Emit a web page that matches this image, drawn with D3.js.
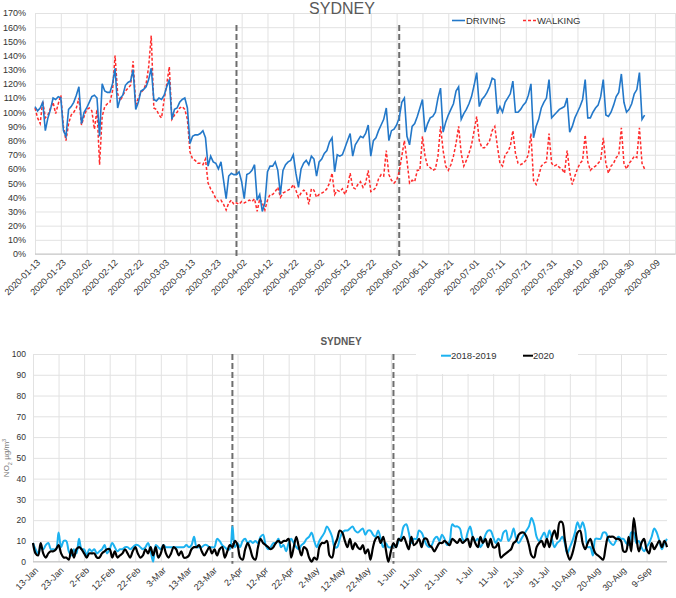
<!DOCTYPE html>
<html>
<head>
<meta charset="utf-8">
<script src="https://cdn.jsdelivr.net/npm/d3@7"></script>
<style>
  body { margin: 0; background: #fff; }
  svg { display: block; font-family: Helvetica, Arial, "Liberation Sans", sans-serif; }
</style>
</head>
<body>
<svg id="chart" width="676" height="598"></svg>
<script>
// ---- data ----
const startDate = '2020-01-13';
const endDate = '2020-09-17';
const lockdownDates = ['2020-03-31', '2020-06-02'];

const tickDates = ['2020-01-13', '2020-01-23', '2020-02-02', '2020-02-12', '2020-02-22', '2020-03-03',
  '2020-03-13', '2020-03-23', '2020-04-02', '2020-04-12', '2020-04-22', '2020-05-02', '2020-05-12',
  '2020-05-22', '2020-06-01', '2020-06-11', '2020-06-21', '2020-07-01', '2020-07-11', '2020-07-21',
  '2020-07-31', '2020-08-10', '2020-08-20', '2020-08-30', '2020-09-09'];

const mobilityTicks = [0, 10, 20, 30, 40, 50, 60, 70, 80, 90, 100, 110, 120, 130, 140, 150, 160, 170];
const no2Ticks = [0, 10, 20, 30, 40, 50, 60, 70, 80, 90, 100];

// Apple mobility, % of baseline, daily from 2020-01-13
const driving = [
  104, 101, 103, 107, 87, 96, 102, 110, 109, 111,
  110, 87, 83, 102, 104, 107, 112, 118, 92, 100,
  103, 107, 111, 112, 110, 83, 120, 115, 114, 114,
  120, 131, 103, 110, 112, 119, 121, 122, 130, 102,
  107, 115, 116, 118, 123, 131, 109, 108, 110, 109,
  112, 118, 123, 95, 102, 103, 107, 109, 110, 103,
  78, 83, 84, 84, 85, 87, 82, 62, 69, 65,
  64, 60, 65, 52, 39, 55, 57, 56, 56, 58,
  51, 39, 56, 57, 59, 63, 38, 42, 30, 36,
  58, 62, 62, 65, 59, 42, 59, 63, 65, 66,
  70, 57, 47, 60, 64, 66, 63, 69, 67, 55,
  65, 67, 71, 73, 79, 82, 58, 70, 69, 70,
  75, 80, 85, 69, 77, 80, 83, 82, 85, 91,
  69, 80, 82, 87, 91, 95, 103, 80, 87, 88,
  91, 96, 107, 110, 83, 77, 90, 92, 97, 103,
  109, 86, 92, 96, 97, 100, 110, 117, 86, 93,
  98, 102, 106, 115, 118, 95, 99, 102, 106, 111,
  119, 128, 104, 109, 111, 114, 118, 124, 123, 99,
  104, 100, 107, 110, 113, 122, 100, 100, 102, 105,
  107, 112, 120, 82, 90, 95, 103, 107, 110, 123,
  96, 98, 100, 102, 103, 104, 110, 86, 90, 96,
  100, 104, 109, 123, 96, 96, 100, 103, 105, 111,
  123, 98, 97, 100, 105, 111, 114, 127, 107, 100,
  102, 106, 113, 116, 128, 95, 98
];

const walking = [
  103, 96, 92, 108, 96, 98, 103, 107, 99, 106,
  112, 90, 80, 92, 98, 100, 103, 110, 91, 97,
  102, 103, 101, 88, 102, 63, 97, 104, 106, 107,
  115, 140, 113, 108, 112, 115, 117, 119, 136, 105,
  110, 114, 116, 120, 132, 154, 103, 102, 98, 96,
  109, 120, 132, 95, 98, 100, 103, 104, 102, 95,
  72, 67, 66, 64, 64, 63, 67, 50, 46, 43,
  39, 37, 38, 35, 31, 36, 38, 35, 36, 35,
  37, 36, 37, 38, 37, 39, 30, 39, 36, 31,
  38, 42, 42, 44, 47, 40, 43, 44, 45, 46,
  49, 45, 40, 43, 45, 44, 35, 46, 45, 40,
  42, 43, 44, 46, 50, 57, 42, 45, 44, 46,
  42, 47, 57, 47, 46, 49, 51, 47, 50, 59,
  44, 45, 47, 53, 56, 55, 73, 56, 52, 50,
  52, 58, 69, 80, 66, 50, 52, 51, 59, 59,
  83, 69, 62, 61, 59, 60, 69, 90, 73, 62,
  59, 63, 69, 78, 90, 71, 62, 66, 71, 77,
  87, 97, 80, 75, 75, 77, 80, 87, 90, 76,
  64, 62, 70, 72, 76, 87, 71, 64, 63, 64,
  66, 70, 85, 52, 49, 55, 62, 64, 65, 85,
  64, 62, 63, 61, 60, 57, 73, 58, 49, 55,
  60, 64, 66, 84, 65, 59, 61, 62, 64, 66,
  82, 64, 57, 62, 64, 68, 70, 89, 64, 60,
  64, 66, 69, 68, 89, 64, 60
];

// NO2 ug/m3, daily from 13-Jan
const no2Baseline = [
  9, 6, 4, 7, 6, 8, 9, 6, 6, 6,
  14, 7, 10, 10, 5, 3, 6, 4, 11, 6,
  6, 3, 6, 5, 6, 4, 5, 6, 8, 4,
  6, 9, 7, 5, 6, 6, 7, 7, 6, 7,
  8, 8, 7, 6, 7, 9, 5, 0, 8, 7,
  6, 8, 7, 7, 7, 7, 7, 7, 7, 7,
  8, 7, 8, 12, 7, 7, 7, 8, 8, 7,
  7, 7, 11, 10, 8, 7, 6, 6, 17, 7,
  9, 7, 10, 11, 9, 10, 9, 10, 9, 12,
  13, 8, 6, 7, 9, 9, 11, 7, 8, 5,
  9, 11, 9, 7, 6, 8, 9, 11, 12, 14,
  10, 7, 10, 12, 14, 17, 15, 12, 7, 7,
  11, 14, 15, 15, 16, 17, 15, 14, 15, 16,
  13, 15, 15, 13, 12, 15, 11, 7, 9, 7,
  7, 8, 7, 10, 12, 17, 18, 14, 9, 11,
  11, 15, 14, 11, 8, 7, 8, 11, 12, 10,
  13, 11, 8, 10, 18, 17, 17, 16, 11, 10,
  14, 17, 12, 10, 11, 7, 9, 13, 15, 15,
  12, 9, 11, 10, 14, 15, 10, 12, 16, 11,
  9, 11, 13, 15, 17, 21, 18, 12, 10, 12,
  14, 11, 15, 11, 7, 9, 10, 12, 9, 4,
  7, 10, 14, 19, 16, 19, 15, 7, 7, 3,
  11, 11, 11, 14, 14, 11, 9, 8, 10, 12,
  11, 11, 9, 8, 14, 14, 9, 10, 7, 5,
  7, 9, 12, 16, 14, 10, 6, 9, 11
];

const no2Year2020 = [
  9, 4, 3, 9, 4, 2, 4, 5, 5, 6,
  8, 4, 2, 2, 1, 6, 2, 6, 7, 6,
  4, 2, 4, 4, 4, 2, 2, 4, 5, 6,
  6, 2, 5, 2, 3, 4, 6, 4, 2, 5,
  7, 4, 2, 3, 6, 4, 7, 3, 7, 2,
  4, 8, 4, 2, 4, 7, 6, 3, 5, 2,
  2, 3, 6, 7, 7, 8, 5, 3, 5, 7,
  4, 6, 3, 6, 7, 2, 5, 8, 7, 10,
  8, 2, 1, 6, 9, 6, 2, 1, 7, 11,
  9, 8, 7, 6, 7, 9, 10, 9, 10, 10,
  11, 2, 7, 12, 7, 3, 7, 6, 2, 0,
  2, 1, 7, 9, 9, 10, 3, 2, 8, 11,
  15, 14, 10, 7, 11, 6, 9, 7, 6, 8,
  4, 6, 1, 7, 11, 12, 9, 12, 6, 0,
  5, 9, 7, 11, 10, 12, 9, 6, 12, 8,
  9, 11, 7, 11, 11, 8, 7, 5, 7, 9,
  9, 10, 9, 8, 11, 10, 9, 11, 9, 10,
  11, 7, 12, 9, 7, 12, 9, 11, 7, 11,
  7, 7, 9, 2, 3, 4, 5, 6, 9, 10,
  13, 14, 14, 12, 8, 3, 2, 7, 9, 10,
  7, 11, 7, 12, 15, 11, 19, 19, 11, 4,
  1, 4, 9, 14, 15, 9, 6, 9, 11, 7,
  4, 3, 2, 1, 7, 12, 12, 12, 11, 11,
  10, 5, 5, 12, 5, 21, 12, 5, 9, 11,
  6, 4, 9, 6, 8, 10, 7, 10, 7
];

const parseDate = d3.utcParse('%Y-%m-%d');
const day0 = parseDate(startDate);
const dateAt = i => d3.utcDay.offset(day0, i);

const svg = d3.select('#chart');
const gridColor = '#e2e2e2';
const textColor = '#333';

function styleGrid(g) {
  g.select('.domain').remove();
  g.selectAll('line').attr('stroke', gridColor).attr('stroke-width', 1);
}

function drawPanel(opts) {
  const x = d3.scaleUtc().domain([day0, parseDate(endDate)]).range([opts.left, opts.right]);
  const y = d3.scaleLinear().domain(opts.yDomain).range([opts.bottom, opts.top]);
  const w = opts.right - opts.left;
  const h = opts.bottom - opts.top;
  const ticks = tickDates.map(parseDate);

  svg.append('g')
    .attr('transform', `translate(${opts.left},0)`)
    .call(d3.axisLeft(y).tickValues(opts.yTicks).tickSize(-w).tickFormat(''))
    .call(styleGrid);

  svg.append('g')
    .attr('transform', `translate(0,${opts.bottom})`)
    .call(d3.axisBottom(x).tickValues(ticks).tickSize(h).tickFormat(''))
    .call(g => g.selectAll('line').attr('y2', -h))
    .call(styleGrid);

  if (opts.rightBorder) {
    svg.append('line')
      .attr('x1', opts.right).attr('x2', opts.right)
      .attr('y1', opts.top).attr('y2', opts.bottom)
      .attr('stroke', gridColor);
  }

  svg.append('line')
    .attr('x1', opts.left).attr('x2', opts.right)
    .attr('y1', opts.bottom).attr('y2', opts.bottom)
    .attr('stroke', '#c4c4c4');

  // y labels
  svg.append('g')
    .attr('transform', `translate(${opts.left},0)`)
    .call(d3.axisLeft(y).tickValues(opts.yTicks).tickSize(0).tickPadding(opts.yPad).tickFormat(opts.yFormat))
    .call(g => g.select('.domain').remove())
    .call(g => g.selectAll('text').attr('fill', textColor).style('font-size', opts.yFont));

  // x labels, rotated
  svg.append('g')
    .attr('transform', `translate(0,${opts.bottom})`)
    .call(d3.axisBottom(x).tickValues(ticks).tickSize(0).tickFormat(opts.xFormat))
    .call(g => g.select('.domain').remove())
    .call(g => g.selectAll('text')
      .attr('y', 0).attr('dy', '0.35em')
      .attr('text-anchor', 'end')
      .attr('transform', 'translate(3,7) rotate(-45)')
      .attr('fill', textColor)
      .style('font-size', '9px'));

  lockdownDates.forEach(d => {
    svg.append('line')
      .attr('x1', x(parseDate(d))).attr('x2', x(parseDate(d)))
      .attr('y1', opts.dashTop).attr('y2', opts.bottom + 2)
      .attr('stroke', '#6e6e6e')
      .attr('stroke-width', 2)
      .attr('stroke-dasharray', '6,3');
  });

  return { x, y };
}

// ---- top: mobility ----
const topPanel = drawPanel({
  left: 35, right: 675.6, top: 13, bottom: 254,
  yDomain: [0, 170], yTicks: mobilityTicks, yPad: 9, yFont: '9px',
  yFormat: d => d + '%',
  xFormat: d3.utcFormat('%Y-%m-%d'),
  dashTop: 25, rightBorder: true
});

const topLine = d3.line()
  .x((d, i) => topPanel.x(dateAt(i)))
  .y(d => topPanel.y(d));

svg.append('path').datum(walking)
  .attr('d', topLine)
  .attr('fill', 'none')
  .attr('stroke', '#ff2b2b')
  .attr('stroke-width', 1.5)
  .attr('stroke-dasharray', '3,2');

svg.append('path').datum(driving)
  .attr('d', topLine)
  .attr('fill', 'none')
  .attr('stroke', '#2378c9')
  .attr('stroke-width', 1.6);

svg.append('text')
  .attr('x', 342).attr('y', 14)
  .attr('text-anchor', 'middle')
  .attr('fill', '#595959')
  .style('font-size', '16px')
  .text('SYDNEY');

const topLegend = [
  { label: 'DRIVING', color: '#2378c9', dash: null, x: 452 },
  { label: 'WALKING', color: '#ff2b2b', dash: '3,2', x: 523 }
];
topLegend.forEach(l => {
  svg.append('line')
    .attr('x1', l.x).attr('x2', l.x + 13)
    .attr('y1', 20.5).attr('y2', 20.5)
    .attr('stroke', l.color).attr('stroke-width', 1.6)
    .attr('stroke-dasharray', l.dash);
  svg.append('text')
    .attr('x', l.x + 14).attr('y', 24)
    .attr('fill', textColor)
    .style('font-size', '9.5px')
    .text(l.label);
});

// ---- bottom: NO2 ----
const botPanel = drawPanel({
  left: 33, right: 667, top: 354, bottom: 561.7,
  yDomain: [0, 100], yTicks: no2Ticks, yPad: 7, yFont: '8.5px',
  yFormat: d3.format('d'),
  xFormat: d3.utcFormat('%-d-%b'),
  dashTop: 354, rightBorder: false
});

// legend box hides the grid behind it
svg.append('rect')
  .attr('x', 416).attr('y', 346)
  .attr('width', 162).attr('height', 28)
  .attr('fill', '#fff');

const botLine = d3.line()
  .x((d, i) => botPanel.x(dateAt(i)))
  .y(d => botPanel.y(d))
  .curve(d3.curveCatmullRom);

svg.append('path').datum(no2Baseline)
  .attr('d', botLine)
  .attr('fill', 'none')
  .attr('stroke', '#1cb2f0')
  .attr('stroke-width', 2);

svg.append('path').datum(no2Year2020)
  .attr('d', botLine)
  .attr('fill', 'none')
  .attr('stroke', '#000')
  .attr('stroke-width', 2.2);

svg.append('text')
  .attr('x', 341).attr('y', 345)
  .attr('text-anchor', 'middle')
  .attr('fill', '#595959')
  .style('font-size', '10px')
  .style('font-weight', 'bold')
  .text('SYDNEY');

const botLegend = [
  { label: '2018-2019', color: '#1cb2f0', x: 441 },
  { label: '2020', color: '#000', x: 523 }
];
botLegend.forEach(l => {
  svg.append('line')
    .attr('x1', l.x).attr('x2', l.x + 10)
    .attr('y1', 355.7).attr('y2', 355.7)
    .attr('stroke', l.color).attr('stroke-width', 2);
  svg.append('text')
    .attr('x', l.x + 10).attr('y', 359)
    .attr('fill', textColor)
    .style('font-size', '9.5px')
    .text(l.label);
});

const yLab = svg.append('text')
  .attr('transform', 'translate(9,458) rotate(-90)')
  .attr('text-anchor', 'middle')
  .attr('fill', '#777')
  .style('font-size', '8px');
yLab.append('tspan').text('NO');
yLab.append('tspan').attr('baseline-shift', 'sub').style('font-size', '5.5px').text('2');
yLab.append('tspan').text(' µg/m');
yLab.append('tspan').attr('baseline-shift', 'super').style('font-size', '5.5px').text('3');
</script>
</body>
</html>
